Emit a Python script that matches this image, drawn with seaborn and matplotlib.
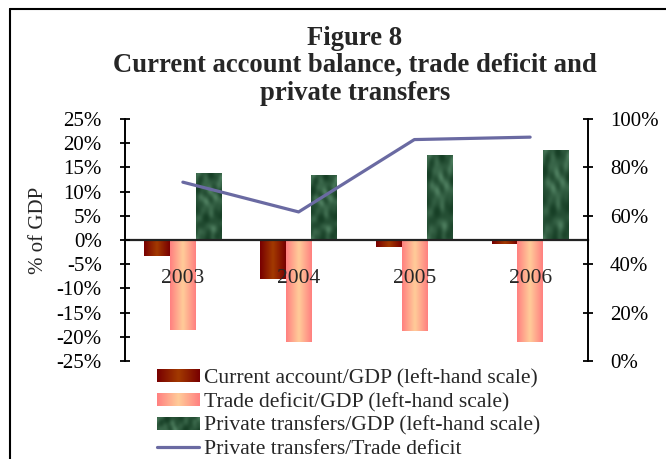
import numpy as np
import pandas as pd
import matplotlib
matplotlib.use("Agg")
import matplotlib.pyplot as plt
import seaborn as sns
from matplotlib.lines import Line2D
from matplotlib.patches import Patch
from matplotlib.ticker import FuncFormatter, FixedLocator

# ---- data -------------------------------------------------------------
years = ["2003", "2004", "2005", "2006"]
current_account = [-3.4, -8.0, -1.4, -0.8]      # % of GDP
trade_deficit = [-18.5, -21.0, -18.9, -21.0]    # % of GDP
private_transfers = [13.8, 13.4, 17.5, 18.5]    # % of GDP
transfers_to_deficit = [73.9, 61.6, 91.5, 92.5] # %

series_names = [
    "Current account/GDP (left-hand scale)",
    "Trade deficit/GDP (left-hand scale)",
    "Private transfers/GDP (left-hand scale)",
]
line_name = "Private transfers/Trade deficit"

df = pd.DataFrame({
    "year": years * 3,
    "series": [series_names[0]] * 4 + [series_names[1]] * 4 + [series_names[2]] * 4,
    "value": current_account + trade_deficit + private_transfers,
})

# ---- style ------------------------------------------------------------
sns.set_theme(style="white")
plt.rcParams["font.family"] = ["Liberation Serif", "DejaVu Serif"]
plt.rcParams["axes.linewidth"] = 1.4

base_colors = ["#8f1a00", "#ffa98c", "#1f5232"]
line_color = "#6a6aa2"

W, H = 666, 459
fig = plt.figure(figsize=(W / 100, H / 100), dpi=100)
fig.patch.set_facecolor("white")

x0, x1, ytop, ybot = 125, 588, 119, 361
ax = fig.add_axes([x0 / W, 1 - ybot / H, (x1 - x0) / W, (ybot - ytop) / H])

sns.barplot(data=df, x="year", y="value", hue="series", hue_order=series_names,
            palette=base_colors, width=0.667, errorbar=None, ax=ax,
            legend=False, saturation=1, linewidth=0)


# ---- bar fills: centre-out gradients and a marbled green ---------------
def centre_gradient(edge, centre, n=64):
    t = np.abs(np.linspace(-1, 1, n))
    e = np.array(matplotlib.colors.to_rgb(edge))
    c = np.array(matplotlib.colors.to_rgb(centre))
    row = c[None, :] * (1 - t[:, None]) + e[None, :] * t[:, None]
    return row[None, :, :]


def marble(nx=30, ny=90):
    xx, yy = np.meshgrid(np.linspace(0, 5, nx), np.linspace(0, 15, ny))
    v = (np.sin(xx * 1.3 + 1.6 * np.sin(yy * 0.5 + 0.4))
         * np.cos(yy * 0.8 + 1.4 * np.sin(xx * 1.1))
         + 0.35 * np.sin(xx * 2.9 - yy * 0.7) * np.cos(yy * 1.7 + xx))
    v = (v - v.min()) / (v.max() - v.min())
    v = v ** 1.5
    dark = np.array(matplotlib.colors.to_rgb("#173f26"))
    light = np.array(matplotlib.colors.to_rgb("#4e7e5f"))
    return dark[None, None, :] * (1 - v[..., None]) + light[None, None, :] * v[..., None]


fills = [centre_gradient("#780000", "#a33a00"),
         centre_gradient("#ff8080", "#ffcc99"),
         marble()]

for cont, img in zip(ax.containers, fills):
    for bar in cont:
        bx, by = bar.get_x(), bar.get_y()
        bw, bh = bar.get_width(), bar.get_height()
        ax.imshow(img, extent=[bx, bx + bw, by, by + bh], aspect="auto",
                  interpolation="bicubic", zorder=1.2)

# ---- left axis --------------------------------------------------------
ax.set_axisbelow(False)
ax.set_xlim(-0.5, len(years) - 0.5)
ax.set_ylim(-25, 25)
ax.set_yticks(np.arange(-25, 26, 5))
ax.yaxis.set_major_formatter(FuncFormatter(lambda v, p: f"{v:.0f}%"))
ax.tick_params(axis="y", direction="inout", length=7.5, width=1.3, pad=13,
               labelsize=15, colors="black")
ax.set_ylabel("% of GDP", fontsize=15)
ax.yaxis.set_label_coords(-0.167, 0.541)
ax.set_xlabel("")

ax.spines["bottom"].set_position(("data", 0))
ax.spines["bottom"].set_color("#222222")
ax.spines["bottom"].set_linewidth(1.6)
ax.spines["left"].set_color("black")
ax.spines["top"].set_visible(False)
ax.spines["right"].set_visible(False)

ax.set_xticks(range(len(years)))
ax.set_xticklabels(years)
ax.xaxis.set_minor_locator(FixedLocator([0.5, 1.5, 2.5]))
ax.tick_params(axis="x", which="major", length=0, pad=21, labelsize=15.5)
ax.tick_params(axis="x", which="minor", direction="inout", length=9, width=1.3,
               color="black")
ax.patch.set_visible(False)

# ---- right axis: ratio line ------------------------------------------
ax2 = ax.twinx()
sns.lineplot(x=np.arange(len(years)), y=transfers_to_deficit, ax=ax2,
             color=line_color, linewidth=2.3, zorder=3)
ax2.set_ylim(0, 100)
ax2.set_yticks(np.arange(0, 101, 20))
ax2.yaxis.set_major_formatter(FuncFormatter(lambda v, p: f"{v:.0f}%"))
ax2.tick_params(axis="y", direction="inout", length=7.5, width=1.3, pad=12,
                labelsize=15, colors="black")
for s in ["top", "bottom", "left"]:
    ax2.spines[s].set_visible(False)
ax2.spines["right"].set_color("black")
ax2.set_xlim(-0.5, len(years) - 0.5)

# ---- title -----------------------------------------------------------
cx = 355 / W
for txt, base in [("Figure 8", 45), ("Current account balance, trade deficit and", 72),
                  ("private transfers", 99.5)]:
    fig.text(cx, 1 - base / H, txt, ha="center", va="baseline",
             fontsize=19.2, fontweight="bold")

# ---- legend ----------------------------------------------------------
handles = [Patch(facecolor=c, edgecolor="none") for c in base_colors]
handles.append(Line2D([0], [0], color=line_color, linewidth=2.3))
leg = fig.legend(handles, series_names + [line_name], loc="upper left",
                 bbox_to_anchor=(157 / W, 1 - 369 / H), frameon=False,
                 fontsize=15.6, handlelength=1.95, handleheight=0.52,
                 handletextpad=0.22, labelspacing=0.2, borderaxespad=0,
                 borderpad=0)

# legend swatches get the same fills as the bars
fig.canvas.draw()
for p, img in zip(leg.get_patches(), fills):
    bb = p.get_window_extent().transformed(fig.transFigure.inverted())
    lax = fig.add_axes([bb.x0, bb.y0, bb.width, bb.height], zorder=10)
    if img.shape[0] > 1:
        img = np.transpose(img, (1, 0, 2))[:12, :, :]
    lax.imshow(img, aspect="auto", interpolation="bicubic")
    lax.set_axis_off()

# ---- outer frame -----------------------------------------------------
fig.add_artist(Line2D([10 / W, 1], [1 - 9 / H, 1 - 9 / H], color="black",
                      linewidth=1.5, transform=fig.transFigure))
fig.add_artist(Line2D([10 / W, 10 / W], [0, 1 - 9 / H], color="black",
                      linewidth=1.5, transform=fig.transFigure))

fig.savefig("out.png", dpi=100)
